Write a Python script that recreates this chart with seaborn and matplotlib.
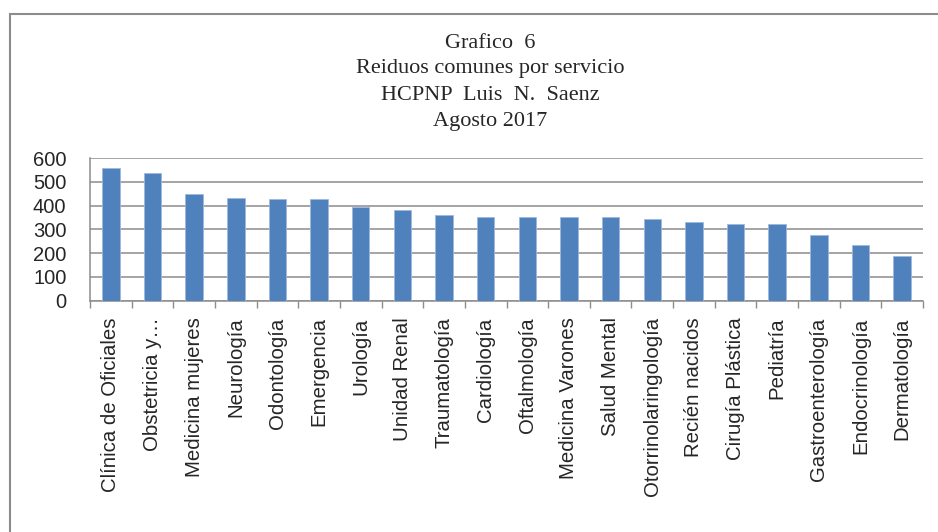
import pandas as pd
import seaborn as sns
import matplotlib.pyplot as plt
from matplotlib.patches import Rectangle

# Datos
servicios = ["Clínica de Oficiales", "Obstetricia y…", "Medicina mujeres", "Neurología",
             "Odontología", "Emergencia", "Urología", "Unidad Renal", "Traumatología",
             "Cardiología", "Oftalmología", "Medicina Varones", "Salud Mental",
             "Otorrinolaringología", "Recién nacidos", "Cirugía Plástica", "Pediatría",
             "Gastroenterología", "Endocrinología", "Dermatología"]
residuos = [558, 537, 449, 433, 426, 426, 395, 381, 359, 350, 350, 350, 350,
            343, 329, 321, 321, 276, 233, 188]
yticks = [0, 100, 200, 300, 400, 500, 600]

df = pd.DataFrame({"Servicio": servicios, "Residuos": residuos})

sns.set_style("white")
plt.rcParams['font.family'] = ['Liberation Sans', 'DejaVu Sans']

fig = plt.figure(figsize=(9.38, 5.32), dpi=100)
ax = fig.add_axes([90 / 938, 1 - 300.7 / 532, 833 / 938, 142.7 / 532])

sns.barplot(data=df, x="Servicio", y="Residuos", color="#4F81BD", width=0.42,
            saturation=1, edgecolor="#9DB9DE", linewidth=0.6, ax=ax, zorder=3)

ax.set_ylim(0, 600)
ax.set_xlim(-0.5, len(servicios) - 0.5)
ax.set_yticks(yticks)
ax.set_yticklabels([str(v) for v in yticks], fontsize=14.5)
ax.yaxis.grid(True, color="#8C8C8C", linewidth=1.1, zorder=0)
ax.set_axisbelow(True)
ax.set_xlabel("")
ax.set_ylabel("")

ax.set_xticks(range(len(servicios)))
ax.set_xticklabels(servicios, rotation=90, fontsize=14.7, va="top")
ax.set_xticks([i + 0.5 for i in range(-1, len(servicios))], minor=True)
ax.tick_params(axis="x", which="major", length=0, pad=12)
ax.tick_params(axis="x", which="minor", length=5, color="#8C8C8C", width=1, direction="out", bottom=True)
ax.tick_params(axis="y", length=0, pad=17)

for side in ["top", "right"]:
    ax.spines[side].set_visible(False)
ax.spines["left"].set_color("#8C8C8C")
ax.spines["bottom"].set_color("#8C8C8C")
ax.spines["left"].set_linewidth(1.1)
ax.spines["bottom"].set_linewidth(1.1)

titulo = ["Grafico  6", "Reiduos comunes por servicio", "HCPNP  Luis  N.  Saenz", "Agosto 2017"]
for i, linea in enumerate(titulo):
    fig.text(490 / 938, 1 - (43 + i * 26) / 532, linea, ha="center", va="center",
             fontsize=16, family=["Liberation Serif", "DejaVu Serif"])

# Marco del grafico
fig.patches.append(Rectangle((9.5 / 938, -0.1), 1.1, 1 - 13.5 / 532 + 0.1,
                             transform=fig.transFigure, fill=False,
                             edgecolor="#8C8C8C", linewidth=1.5))

fig.savefig("out.png", dpi=100)
